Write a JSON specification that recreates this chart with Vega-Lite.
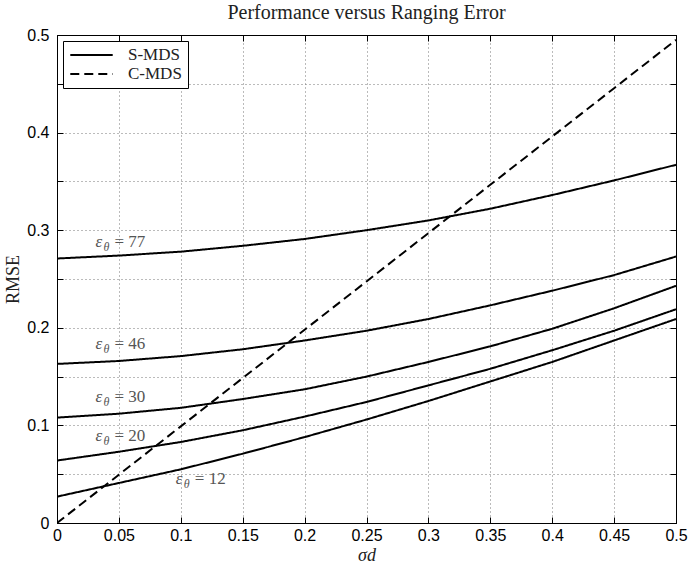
{
  "$schema": "https://vega.github.io/schema/vega-lite/v6.json",
  "width": 619,
  "height": 488,
  "autosize": {"type": "none"},
  "padding": {"left": 57, "top": 35, "right": 13, "bottom": 45},
  "background": "white",
  "title": {"text": "Performance versus Ranging Error", "font": "Liberation Serif", "fontSize": 20, "fontWeight": "normal", "color": "#222", "offset": 4, "anchor": "middle"},
  "config": {
    "view": {"stroke": "black", "strokeWidth": 1},
    "axis": {
      "labelFont": "Liberation Sans", "labelFontSize": 16, "labelColor": "black",
      "titleFont": "Liberation Serif", "titleFontSize": 18, "titleFontWeight": "normal", "titleColor": "#222",
      "domainColor": "black", "tickColor": "black", "tickSize": -6,
      "gridColor": "#777", "gridDash": [1, 3], "gridOpacity": 1, "gridWidth": 1
    }
  },
  "datasets": {
    "curves": [
      {"x": 0, "y": 0.271, "method": "S-MDS", "eps": "77"},
      {"x": 0.05, "y": 0.274, "method": "S-MDS", "eps": "77"},
      {"x": 0.1, "y": 0.278, "method": "S-MDS", "eps": "77"},
      {"x": 0.15, "y": 0.284, "method": "S-MDS", "eps": "77"},
      {"x": 0.2, "y": 0.291, "method": "S-MDS", "eps": "77"},
      {"x": 0.25, "y": 0.300, "method": "S-MDS", "eps": "77"},
      {"x": 0.3, "y": 0.310, "method": "S-MDS", "eps": "77"},
      {"x": 0.35, "y": 0.322, "method": "S-MDS", "eps": "77"},
      {"x": 0.4, "y": 0.336, "method": "S-MDS", "eps": "77"},
      {"x": 0.45, "y": 0.351, "method": "S-MDS", "eps": "77"},
      {"x": 0.5, "y": 0.367, "method": "S-MDS", "eps": "77"},
      {"x": 0, "y": 0.163, "method": "S-MDS", "eps": "46"},
      {"x": 0.05, "y": 0.166, "method": "S-MDS", "eps": "46"},
      {"x": 0.1, "y": 0.171, "method": "S-MDS", "eps": "46"},
      {"x": 0.15, "y": 0.178, "method": "S-MDS", "eps": "46"},
      {"x": 0.2, "y": 0.187, "method": "S-MDS", "eps": "46"},
      {"x": 0.25, "y": 0.197, "method": "S-MDS", "eps": "46"},
      {"x": 0.3, "y": 0.209, "method": "S-MDS", "eps": "46"},
      {"x": 0.35, "y": 0.223, "method": "S-MDS", "eps": "46"},
      {"x": 0.4, "y": 0.238, "method": "S-MDS", "eps": "46"},
      {"x": 0.45, "y": 0.254, "method": "S-MDS", "eps": "46"},
      {"x": 0.5, "y": 0.273, "method": "S-MDS", "eps": "46"},
      {"x": 0, "y": 0.108, "method": "S-MDS", "eps": "30"},
      {"x": 0.05, "y": 0.112, "method": "S-MDS", "eps": "30"},
      {"x": 0.1, "y": 0.118, "method": "S-MDS", "eps": "30"},
      {"x": 0.15, "y": 0.127, "method": "S-MDS", "eps": "30"},
      {"x": 0.2, "y": 0.137, "method": "S-MDS", "eps": "30"},
      {"x": 0.25, "y": 0.150, "method": "S-MDS", "eps": "30"},
      {"x": 0.3, "y": 0.165, "method": "S-MDS", "eps": "30"},
      {"x": 0.35, "y": 0.181, "method": "S-MDS", "eps": "30"},
      {"x": 0.4, "y": 0.199, "method": "S-MDS", "eps": "30"},
      {"x": 0.45, "y": 0.220, "method": "S-MDS", "eps": "30"},
      {"x": 0.5, "y": 0.243, "method": "S-MDS", "eps": "30"},
      {"x": 0, "y": 0.064, "method": "S-MDS", "eps": "20"},
      {"x": 0.05, "y": 0.073, "method": "S-MDS", "eps": "20"},
      {"x": 0.1, "y": 0.083, "method": "S-MDS", "eps": "20"},
      {"x": 0.15, "y": 0.095, "method": "S-MDS", "eps": "20"},
      {"x": 0.2, "y": 0.109, "method": "S-MDS", "eps": "20"},
      {"x": 0.25, "y": 0.124, "method": "S-MDS", "eps": "20"},
      {"x": 0.3, "y": 0.141, "method": "S-MDS", "eps": "20"},
      {"x": 0.35, "y": 0.158, "method": "S-MDS", "eps": "20"},
      {"x": 0.4, "y": 0.177, "method": "S-MDS", "eps": "20"},
      {"x": 0.45, "y": 0.197, "method": "S-MDS", "eps": "20"},
      {"x": 0.5, "y": 0.219, "method": "S-MDS", "eps": "20"},
      {"x": 0, "y": 0.027, "method": "S-MDS", "eps": "12"},
      {"x": 0.05, "y": 0.041, "method": "S-MDS", "eps": "12"},
      {"x": 0.1, "y": 0.055, "method": "S-MDS", "eps": "12"},
      {"x": 0.15, "y": 0.071, "method": "S-MDS", "eps": "12"},
      {"x": 0.2, "y": 0.088, "method": "S-MDS", "eps": "12"},
      {"x": 0.25, "y": 0.106, "method": "S-MDS", "eps": "12"},
      {"x": 0.3, "y": 0.125, "method": "S-MDS", "eps": "12"},
      {"x": 0.35, "y": 0.145, "method": "S-MDS", "eps": "12"},
      {"x": 0.4, "y": 0.165, "method": "S-MDS", "eps": "12"},
      {"x": 0.45, "y": 0.187, "method": "S-MDS", "eps": "12"},
      {"x": 0.5, "y": 0.209, "method": "S-MDS", "eps": "12"},
      {"x": 0, "y": 0.0, "method": "C-MDS", "eps": "C"},
      {"x": 0.05, "y": 0.0495, "method": "C-MDS", "eps": "C"},
      {"x": 0.1, "y": 0.099, "method": "C-MDS", "eps": "C"},
      {"x": 0.15, "y": 0.1485, "method": "C-MDS", "eps": "C"},
      {"x": 0.2, "y": 0.198, "method": "C-MDS", "eps": "C"},
      {"x": 0.25, "y": 0.2475, "method": "C-MDS", "eps": "C"},
      {"x": 0.3, "y": 0.297, "method": "C-MDS", "eps": "C"},
      {"x": 0.35, "y": 0.3465, "method": "C-MDS", "eps": "C"},
      {"x": 0.4, "y": 0.396, "method": "C-MDS", "eps": "C"},
      {"x": 0.45, "y": 0.4455, "method": "C-MDS", "eps": "C"},
      {"x": 0.5, "y": 0.495, "method": "C-MDS", "eps": "C"}
    ],
    "labels": [
      {"x": 0.031, "y": 0.288, "value": "= 77"},
      {"x": 0.031, "y": 0.183, "value": "= 46"},
      {"x": 0.031, "y": 0.129, "value": "= 30"},
      {"x": 0.031, "y": 0.089, "value": "= 20"},
      {"x": 0.096, "y": 0.045, "value": "= 12"}
    ]
  },
  "layer": [
    {
      "layer": [
        {
          "data": {"name": "curves"},
          "mark": {"type": "line", "color": "black", "strokeWidth": 2, "clip": true},
          "encoding": {
            "x": {"field": "x", "type": "quantitative", "scale": {"domain": [0, 0.5], "nice": false},
              "axis": {"title": "σd", "titleFontStyle": "italic", "values": [0, 0.05, 0.1, 0.15, 0.2, 0.25, 0.3, 0.35, 0.4, 0.45, 0.5], "format": "~g", "grid": true, "labelPadding": 10, "titlePadding": 3, "labelFlush": false}},
            "y": {"field": "y", "type": "quantitative", "scale": {"domain": [0, 0.5], "nice": false},
              "axis": {"title": "RMSE", "values": [0, 0.05, 0.1, 0.15, 0.2, 0.25, 0.3, 0.35, 0.4, 0.45, 0.5], "format": "~g", "labelExpr": "round(datum.value*100) % 10 == 0 ? datum.label : ''", "grid": true, "labelPadding": 14, "titlePadding": 4, "labelFlush": false}},
            "strokeDash": {"field": "method", "type": "nominal",
              "scale": {"domain": ["S-MDS", "C-MDS"], "range": [[1, 0], [9, 5]]},
              "legend": {"title": null, "orient": "top-left", "offset": 6, "symbolType": "stroke", "symbolSize": 1800, "symbolStrokeWidth": 2, "symbolStrokeColor": "black", "labelFont": "Liberation Serif", "labelFontSize": 17, "labelColor": "#222", "strokeColor": "black", "fillColor": "white", "padding": 6, "rowPadding": 2, "labelOffset": 14, "clipHeight": 16}},
            "detail": {"field": "eps", "type": "nominal"}
          }
        },
        {
          "data": {"name": "labels"},
          "mark": {"type": "text", "align": "left", "baseline": "middle", "font": "Liberation Serif", "fontSize": 17, "fontStyle": "italic", "color": "#555", "text": "ε"},
          "encoding": {
            "x": {"field": "x", "type": "quantitative"},
            "y": {"field": "y", "type": "quantitative"}
          }
        },
        {
          "data": {"name": "labels"},
          "mark": {"type": "text", "align": "left", "baseline": "middle", "font": "Liberation Serif", "fontSize": 12, "fontStyle": "italic", "color": "#555", "text": "θ", "dx": 8, "dy": 5},
          "encoding": {
            "x": {"field": "x", "type": "quantitative"},
            "y": {"field": "y", "type": "quantitative"}
          }
        },
        {
          "data": {"name": "labels"},
          "mark": {"type": "text", "align": "left", "baseline": "middle", "font": "Liberation Serif", "fontSize": 17, "color": "#555", "dx": 19},
          "encoding": {
            "x": {"field": "x", "type": "quantitative"},
            "y": {"field": "y", "type": "quantitative"},
            "text": {"field": "value"}
          }
        }
      ]
    },
    {
      "data": {"name": "curves"},
      "mark": {"type": "point", "opacity": 0},
      "encoding": {
        "x": {"field": "x", "type": "quantitative", "scale": {"domain": [0, 0.5], "nice": false},
          "axis": {"orient": "top", "title": null, "labels": false, "grid": false, "values": [0, 0.05, 0.1, 0.15, 0.2, 0.25, 0.3, 0.35, 0.4, 0.45, 0.5]}},
        "y": {"field": "y", "type": "quantitative", "scale": {"domain": [0, 0.5], "nice": false},
          "axis": {"orient": "right", "title": null, "labels": false, "grid": false, "values": [0, 0.05, 0.1, 0.15, 0.2, 0.25, 0.3, 0.35, 0.4, 0.45, 0.5]}}
      }
    }
  ],
  "resolve": {"scale": {"x": "independent", "y": "independent"}}
}
